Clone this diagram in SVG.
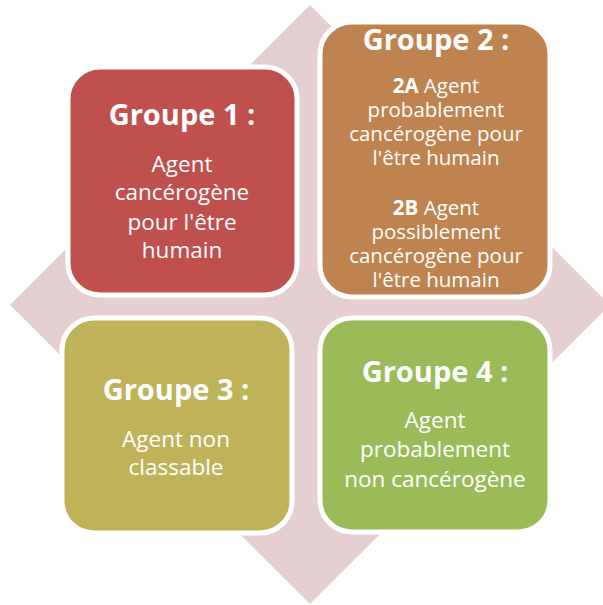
<svg xmlns="http://www.w3.org/2000/svg" width="603" height="605" viewBox="0 0 603 605">
  <style>
    .box { stroke: #ffffff; stroke-width: 5; }
    .title { font-family: "Open Sans", "DejaVu Sans", sans-serif; font-weight: bold; font-size: 29px; fill: #ffffff; text-anchor: middle; }
    .body { font-family: "Open Sans", "DejaVu Sans", sans-serif; font-size: 22.5px; fill: #ffffff; text-anchor: middle; }
    .small { font-size: 20.5px; }
    .b { font-weight: bold; }
  </style>
  <rect width="603" height="605" fill="#ffffff"/>
  <!-- background diamond -->
  <polygon points="310,5 610,305 310,604 10,305" fill="#E6CFD1"/>

  <g id="groupe1">
    <rect class="box" x="68" y="67" width="229" height="228" rx="32" fill="#C0504D"/>
    <text class="title" x="182" y="125">Groupe 1 :</text>
    <text class="body"><tspan x="182" y="172">Agent</tspan><tspan x="182" y="200">cancérogène</tspan><tspan x="182" y="230">pour l'être</tspan><tspan x="182" y="258">humain</tspan></text>
  </g>

  <g id="groupe2">
    <rect class="box" x="320" y="22" width="230" height="275" rx="32" fill="#BF8350"/>
    <text class="title" x="436" y="50">Groupe 2 :</text>
    <text class="body small"><tspan x="436" y="93"><tspan class="b">2A</tspan> Agent</tspan><tspan x="436" y="117">probablement</tspan><tspan x="436" y="141">cancérogène pour</tspan><tspan x="436" y="165">l'être humain</tspan></text>
    <text class="body small"><tspan x="436" y="215"><tspan class="b">2B</tspan> Agent</tspan><tspan x="436" y="239">possiblement</tspan><tspan x="436" y="263">cancérogène pour</tspan><tspan x="436" y="287">l'être humain</tspan></text>
  </g>

  <g id="groupe3">
    <rect class="box" x="62" y="318" width="230" height="215" rx="32" fill="#BFB35A"/>
    <text class="title" x="176" y="400">Groupe 3 :</text>
    <text class="body"><tspan x="176" y="447">Agent non</tspan><tspan x="176" y="475">classable</tspan></text>
  </g>

  <g id="groupe4">
    <rect class="box" x="320" y="318" width="230" height="214" rx="32" fill="#9BBB59"/>
    <text class="title" x="435" y="382">Groupe 4 :</text>
    <text class="body"><tspan x="435" y="428">Agent</tspan><tspan x="435" y="457">probablement</tspan><tspan x="435" y="487">non cancérogène</tspan></text>
  </g>

  <g id="connectors"></g>
</svg>
